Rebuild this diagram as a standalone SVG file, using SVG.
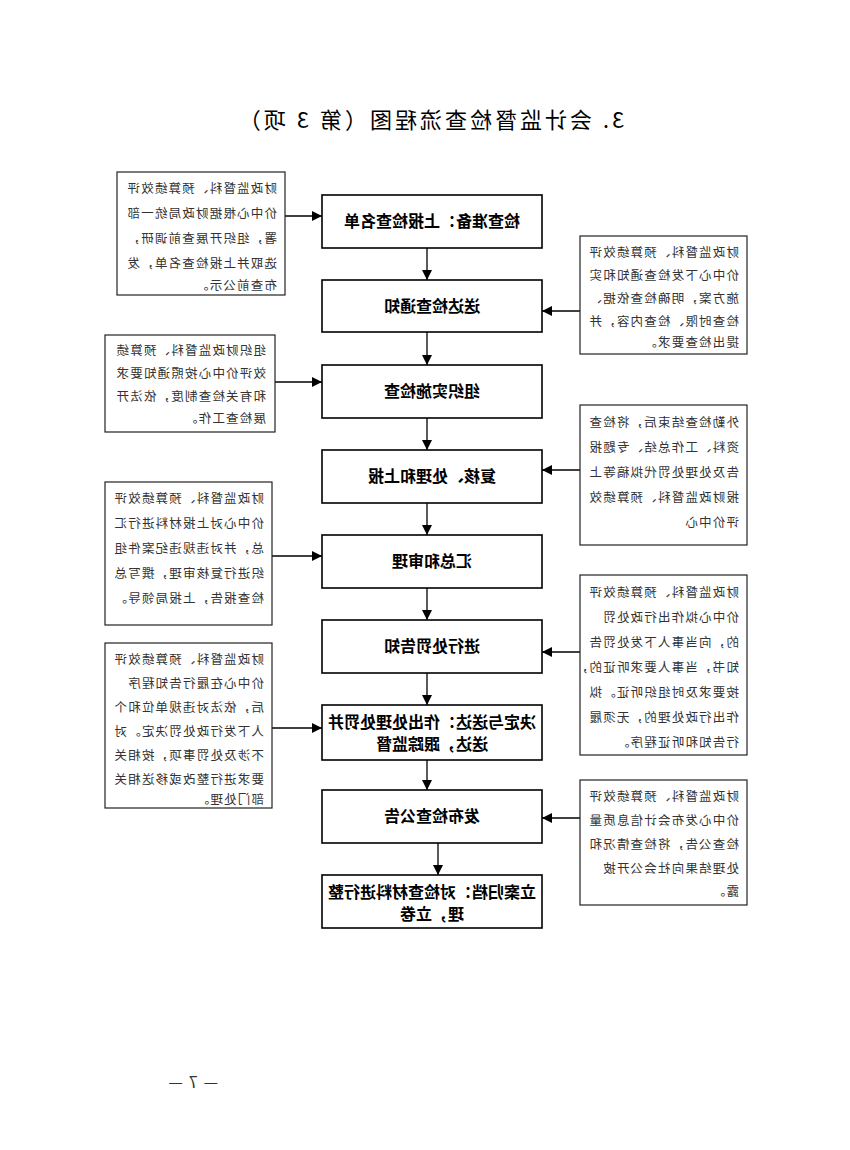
<svg xmlns="http://www.w3.org/2000/svg" width="850" height="1150" viewBox="0 0 850 1150">
<style>
.b{fill:#fff;stroke:#000;stroke-width:1.6}
.s{fill:#fff;stroke:#222;stroke-width:1.2}
.m{font-family:"Noto Sans CJK SC","Liberation Serif",serif;font-size:16px;font-weight:bold;text-anchor:middle;fill:#000}
.t{font-family:"Noto Sans CJK SC","Liberation Serif",serif;font-size:12.5px;fill:#333;letter-spacing:1.2px}
.c{stroke:#000;stroke-width:1.3;fill:none}
</style>
<defs><marker id="a" viewBox="0 0 10 10" refX="10" refY="5" markerWidth="8" markerHeight="8" orient="auto"><path d="M0,0 L10,5 L0,10z" fill="#000"/></marker></defs>
<text class="m" style="font-size:22px;font-weight:normal;letter-spacing:3px" transform="translate(430,128) scale(-1,1)">3. 会计监督检查流程图（第 3 项）</text>
<g id="connectors" class="c">
<path marker-end="url(#a)" d="M427,248V280"/><path marker-end="url(#a)" d="M427,332V365"/><path marker-end="url(#a)" d="M427,418V450"/><path marker-end="url(#a)" d="M427,503V535"/><path marker-end="url(#a)" d="M427,588V620"/><path marker-end="url(#a)" d="M427,673V705"/><path marker-end="url(#a)" d="M427,760V790"/><path marker-end="url(#a)" d="M438,843V875"/>
<path marker-end="url(#a)" d="M285,216H322"/><path marker-end="url(#a)" d="M275,382H322"/><path marker-end="url(#a)" d="M272,556H322"/><path marker-end="url(#a)" d="M272,728H322"/>
<path marker-end="url(#a)" d="M580,311H542"/><path marker-end="url(#a)" d="M580,470H542"/><path marker-end="url(#a)" d="M580,652H542"/><path marker-end="url(#a)" d="M580,818H542"/>
</g>
<g id="n1"><rect class="b" x="322" y="195" width="220" height="53"/><text class="m" transform="translate(432,227) scale(-1,1)">检查准备：上报检查名单</text></g>
<g id="n2"><rect class="b" x="322" y="280" width="220" height="52"/><text class="m" transform="translate(432,312) scale(-1,1)">送达检查通知</text></g>
<g id="n3"><rect class="b" x="322" y="365" width="220" height="53"/><text class="m" transform="translate(432,397) scale(-1,1)">组织实施检查</text></g>
<g id="n4"><rect class="b" x="322" y="450" width="220" height="53"/><text class="m" transform="translate(432,482) scale(-1,1)">复核、处理和上报</text></g>
<g id="n5"><rect class="b" x="322" y="535" width="220" height="53"/><text class="m" transform="translate(432,567) scale(-1,1)">汇总和审理</text></g>
<g id="n6"><rect class="b" x="322" y="620" width="220" height="53"/><text class="m" transform="translate(432,652) scale(-1,1)">进行处罚告知</text></g>
<g id="n7"><rect class="b" x="322" y="705" width="220" height="55"/><text class="m" transform="translate(432,728) scale(-1,1)">决定与送达：作出处理处罚并</text><text class="m" transform="translate(432,750) scale(-1,1)">送达，跟踪监督</text></g>
<g id="n8"><rect class="b" x="322" y="790" width="220" height="53"/><text class="m" transform="translate(432,822) scale(-1,1)">发布检查公告</text></g>
<g id="n9"><rect class="b" x="322" y="875" width="220" height="53"/><text class="m" transform="translate(432,898) scale(-1,1)">立案归档：对检查材料进行整</text><text class="m" transform="translate(432,920) scale(-1,1)">理，立卷</text></g>
<g id="s1"><rect class="s" x="117" y="172" width="168" height="123"/>
<text class="t" transform="translate(277,193) scale(-1,1)">财政监督科、预算绩效评</text>
<text class="t" transform="translate(277,218) scale(-1,1)">价中心根据财政局统一部</text>
<text class="t" transform="translate(277,243) scale(-1,1)">署，组织开展查前调研，</text>
<text class="t" transform="translate(277,268) scale(-1,1)">选取并上报检查名单，发</text>
<text class="t" transform="translate(277,290) scale(-1,1)">布查前公示。</text></g>
<g id="s2"><rect class="s" x="580" y="236" width="167" height="118"/>
<text class="t" transform="translate(739,257) scale(-1,1)">财政监督科、预算绩效评</text>
<text class="t" transform="translate(739,280) scale(-1,1)">价中心下发检查通知和实</text>
<text class="t" transform="translate(739,303) scale(-1,1)">施方案，明确检查依据、</text>
<text class="t" transform="translate(739,326) scale(-1,1)">检查时限、检查内容，并</text>
<text class="t" transform="translate(739,347) scale(-1,1)">提出检查要求。</text></g>
<g id="s3"><rect class="s" x="105" y="335" width="170" height="97"/>
<text class="t" transform="translate(266,355) scale(-1,1)">组织财政监督科、预算绩</text>
<text class="t" transform="translate(266,378) scale(-1,1)">效评价中心按照通知要求</text>
<text class="t" transform="translate(266,401) scale(-1,1)">和有关检查制度，依法开</text>
<text class="t" transform="translate(266,423) scale(-1,1)">展检查工作。</text></g>
<g id="s4"><rect class="s" x="580" y="405" width="167" height="140"/>
<text class="t" transform="translate(739,427) scale(-1,1)">外勤检查结束后，将检查</text>
<text class="t" transform="translate(739,452) scale(-1,1)">资料、工作总结、专题报</text>
<text class="t" transform="translate(739,477) scale(-1,1)">告及处理处罚代拟稿等上</text>
<text class="t" transform="translate(739,502) scale(-1,1)">报财政监督科、预算绩效</text>
<text class="t" transform="translate(739,527) scale(-1,1)">评价中心</text></g>
<g id="s5"><rect class="s" x="105" y="482" width="167" height="143"/>
<text class="t" transform="translate(264,503) scale(-1,1)">财政监督科、预算绩效评</text>
<text class="t" transform="translate(264,528) scale(-1,1)">价中心对上报材料进行汇</text>
<text class="t" transform="translate(264,553) scale(-1,1)">总，并对违规违纪案件组</text>
<text class="t" transform="translate(264,578) scale(-1,1)">织进行复核审理，撰写总</text>
<text class="t" transform="translate(264,603) scale(-1,1)">检查报告，上报局领导。</text></g>
<g id="s6"><rect class="s" x="580" y="575" width="167" height="180"/>
<text class="t" transform="translate(739,597) scale(-1,1)">财政监督科、预算绩效评</text>
<text class="t" transform="translate(739,622) scale(-1,1)">价中心拟作出行政处罚</text>
<text class="t" transform="translate(739,647) scale(-1,1)">的，向当事人下发处罚告</text>
<text class="t" transform="translate(739,672) scale(-1,1)">知书，当事人要求听证的，</text>
<text class="t" transform="translate(739,697) scale(-1,1)">按要求及时组织听证。拟</text>
<text class="t" transform="translate(739,722) scale(-1,1)">作出行政处理的，无须履</text>
<text class="t" transform="translate(739,747) scale(-1,1)">行告知和听证程序。</text></g>
<g id="s7"><rect class="s" x="105" y="643" width="167" height="165"/>
<text class="t" transform="translate(264,664) scale(-1,1)">财政监督科、预算绩效评</text>
<text class="t" transform="translate(264,688) scale(-1,1)">价中心在履行告知程序</text>
<text class="t" transform="translate(264,712) scale(-1,1)">后，依法对违规单位和个</text>
<text class="t" transform="translate(264,736) scale(-1,1)">人下发行政处罚决定。对</text>
<text class="t" transform="translate(264,760) scale(-1,1)">不涉及处罚事项，按相关</text>
<text class="t" transform="translate(264,784) scale(-1,1)">要求进行整改或移送相关</text>
<text class="t" transform="translate(264,804) scale(-1,1)">部门处理。</text></g>
<g id="s8"><rect class="s" x="580" y="780" width="167" height="125"/>
<text class="t" transform="translate(739,801) scale(-1,1)">财政监督科、预算绩效评</text>
<text class="t" transform="translate(739,825) scale(-1,1)">价中心发布会计信息质量</text>
<text class="t" transform="translate(739,849) scale(-1,1)">检查公告，将检查情况和</text>
<text class="t" transform="translate(739,873) scale(-1,1)">处理结果向社会公开披</text>
<text class="t" transform="translate(739,896) scale(-1,1)">露。</text></g>
<text class="t" style="font-size:16px" transform="translate(218,1088) scale(-1,1)">— 7 —</text>
</svg>
